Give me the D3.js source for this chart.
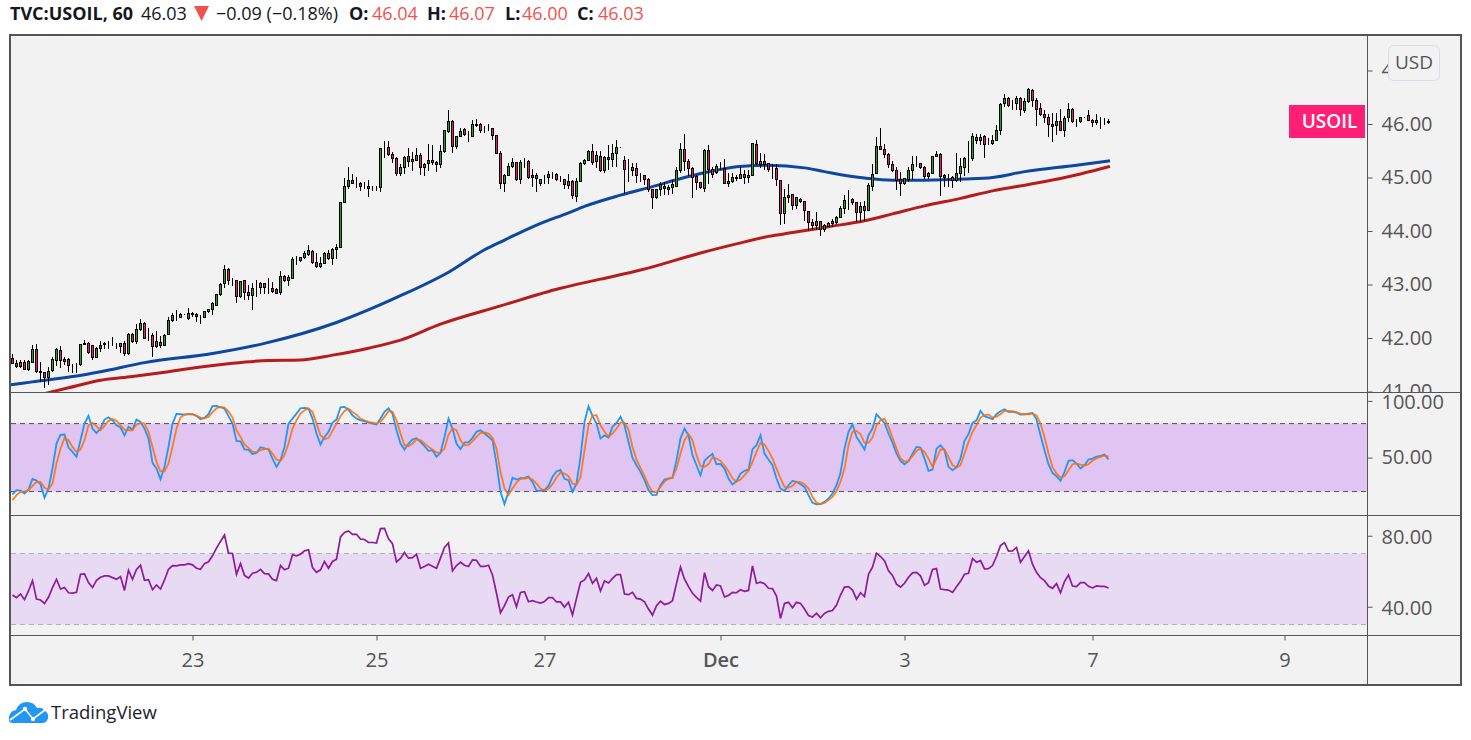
<!DOCTYPE html>
<html>
<head>
<meta charset="utf-8">
<title>TVC:USOIL, 60</title>
<script src="https://cdnjs.cloudflare.com/ajax/libs/d3/7.8.5/d3.min.js"></script>
<style>
  html, body { margin: 0; padding: 0; background: #fff; }
  svg { display: block; }
  text { font-family: "Open Sans", "Noto Sans", sans-serif; }
</style>
</head>
<body>
<div id="chart"></div>
<script>
// Hourly candles, one value per bar
var opens = [
41.62,41.53,41.46,41.55,41.42,41.54,41.79,41.37,41.35,41.26,
41.39,41.58,41.77,41.60,41.60,41.50,41.52,41.50,41.87,41.90,
41.86,41.63,41.80,41.87,41.88,41.87,41.86,41.84,41.90,41.71,
42.07,41.93,42.16,42.27,42.03,42.04,41.84,41.92,41.86,42.06,
42.32,42.41,42.39,42.44,42.36,42.45,42.44,42.40,42.39,42.49,
42.53,42.61,42.82,43.01,43.28,43.08,43.08,42.77,43.07,42.85,
42.80,42.94,42.94,43.02,42.94,42.93,42.90,42.85,43.15,43.07,
43.12,43.46,43.44,43.50,43.57,43.62,43.41,43.33,43.39,43.58,
43.48,43.65,43.69,44.54,44.83,44.95,44.90,44.89,44.85,44.84,
44.82,44.82,44.81,45.56,45.56,45.43,45.36,45.08,45.18,45.40,
45.33,45.31,45.41,45.18,45.26,45.32,45.28,45.25,45.48,45.86,
46.05,45.58,45.77,45.90,45.80,45.76,45.99,45.99,45.90,45.91,
45.92,45.78,45.45,44.89,45.04,45.20,45.28,44.97,45.30,45.30,
45.00,45.04,44.89,45.00,45.00,45.06,45.05,44.97,44.97,44.85,
44.93,44.65,44.93,45.26,45.31,45.48,45.30,45.40,45.13,45.38,
45.33,45.45,45.56,45.32,45.14,45.13,45.17,45.04,45.04,44.97,
44.78,44.62,44.78,44.84,44.77,44.82,44.83,45.13,45.53,45.30,
45.17,45.02,44.90,44.80,45.51,45.15,45.09,45.20,45.17,44.89,
44.92,44.98,44.98,45.05,45.00,45.04,45.62,45.25,45.30,45.26,
45.15,45.17,44.95,44.32,44.62,44.69,44.47,44.59,44.55,44.37,
44.16,44.10,44.17,44.03,44.09,44.14,44.16,44.26,44.42,44.59,
44.58,44.54,44.35,44.46,44.38,44.83,45.08,45.58,45.53,45.43,
45.25,45.13,44.96,44.89,44.97,45.13,45.25,45.26,45.19,45.02,
45.07,45.39,45.43,45.04,45.00,45.00,44.94,45.07,45.19,45.36,
45.35,45.75,45.69,45.77,45.64,45.63,45.70,45.88,46.38,46.48,
46.36,46.39,46.48,46.25,46.42,46.63,46.44,46.29,46.18,46.12,
45.99,45.97,46.05,45.88,46.12,46.27,46.06,46.04,46.12,46.16,
46.07,46.02,46.08,46.06,46.05];
var highs = [
41.71,41.59,41.58,41.59,41.58,41.86,41.89,41.55,41.35,41.45,
41.64,41.81,41.85,41.65,41.62,41.51,41.53,41.88,41.97,41.93,
41.86,41.84,41.94,41.92,41.94,42.01,41.90,41.90,41.94,42.09,
42.09,42.26,42.35,42.29,42.18,42.09,42.13,42.03,42.07,42.40,
42.47,42.53,42.46,42.45,42.56,42.49,42.46,42.43,42.51,42.55,
42.67,42.83,43.03,43.36,43.31,43.13,43.08,43.07,43.08,42.99,
43.02,43.08,43.05,43.02,43.13,43.05,42.93,43.25,43.17,43.18,
43.52,43.53,43.51,43.63,43.74,43.64,43.59,43.51,43.60,43.64,
43.68,43.76,44.54,44.99,45.19,45.07,45.01,44.92,44.92,44.95,
44.84,44.84,45.55,45.68,45.68,45.48,45.38,45.25,45.41,45.55,
45.48,45.56,45.45,45.27,45.63,45.61,45.31,45.61,45.89,46.26,
46.08,45.78,45.93,45.93,45.86,46.08,46.09,46.01,45.96,46.00,
45.93,45.78,45.50,45.07,45.28,45.37,45.28,45.33,45.36,45.33,
45.15,45.09,44.97,45.05,45.12,45.11,45.08,45.03,44.98,45.07,
44.95,44.99,45.29,45.35,45.51,45.63,45.49,45.50,45.40,45.61,
45.63,45.70,45.57,45.41,45.34,45.28,45.28,45.09,45.05,45.00,
44.78,44.79,44.91,44.92,44.86,44.95,45.19,45.64,45.81,45.34,
45.19,45.05,44.92,45.53,45.60,45.20,45.25,45.29,45.34,45.08,
45.08,45.05,45.20,45.14,45.14,45.64,45.70,45.45,45.44,45.28,
45.25,45.25,44.96,44.78,44.87,44.69,44.64,44.61,44.57,44.38,
44.22,44.35,44.17,44.13,44.17,44.22,44.28,44.47,44.67,44.77,
44.61,44.55,44.55,44.57,44.89,45.25,45.75,45.92,45.63,45.45,
45.30,45.20,45.11,45.00,45.20,45.40,45.40,45.28,45.21,45.11,
45.41,45.50,45.46,45.06,45.06,45.03,45.45,45.36,45.38,45.68,
45.84,45.81,45.81,45.80,45.73,45.79,45.98,46.39,46.56,46.51,
46.44,46.52,46.51,46.48,46.67,46.65,46.48,46.40,46.27,46.19,
46.20,46.21,46.28,46.15,46.40,46.29,46.09,46.14,46.13,46.26,
46.10,46.19,46.14,46.12,46.10];
var lows = [
41.52,41.44,41.44,41.40,41.39,41.53,41.35,41.18,41.07,41.13,
41.37,41.48,41.43,41.50,41.36,41.35,41.35,41.48,41.86,41.71,
41.59,41.62,41.73,41.79,41.80,41.85,41.80,41.72,41.67,41.68,
41.91,41.89,42.14,41.98,41.95,41.65,41.81,41.82,41.85,42.06,
42.30,42.31,42.37,42.43,42.33,42.39,42.29,42.27,42.37,42.47,
42.43,42.60,42.79,42.93,42.99,42.97,42.66,42.75,42.71,42.71,
42.52,42.77,42.83,42.82,42.83,42.85,42.82,42.80,43.05,42.98,
43.10,43.36,43.42,43.47,43.53,43.38,43.30,43.30,43.38,43.46,
43.36,43.48,43.68,44.54,44.79,44.88,44.81,44.75,44.78,44.64,
44.74,44.75,44.73,45.36,45.40,45.27,45.03,45.03,45.07,45.20,
45.13,45.30,45.04,45.03,45.13,45.23,45.11,45.18,45.46,45.84,
45.45,45.54,45.75,45.78,45.66,45.75,45.94,45.84,45.84,45.86,
45.70,45.44,44.78,44.73,45.02,45.17,44.94,44.88,45.17,44.98,
44.82,44.72,44.84,44.88,44.88,44.97,44.94,44.92,44.79,44.79,
44.60,44.55,44.92,45.23,45.30,45.24,45.17,45.10,45.09,45.14,
45.20,45.20,45.55,44.69,44.92,45.03,44.90,44.92,44.86,44.73,
44.41,44.60,44.65,44.68,44.67,44.70,44.82,45.08,45.13,45.02,
44.62,44.77,44.78,44.73,44.87,45.00,45.07,45.14,44.87,44.82,
44.89,44.94,44.97,44.88,44.89,45.02,45.23,45.17,45.14,45.11,
44.97,44.85,44.11,44.13,44.52,44.39,44.42,44.52,44.19,44.00,
44.02,44.02,43.91,43.99,44.08,44.08,44.14,44.24,44.32,44.40,
44.49,44.16,44.17,44.19,44.37,44.75,45.07,45.51,45.36,45.17,
45.11,44.77,44.65,44.86,44.92,44.95,45.20,45.15,44.98,44.98,
45.07,45.38,44.65,44.82,44.83,44.80,44.92,44.92,45.03,45.08,
45.31,45.63,45.60,45.36,45.61,45.60,45.69,45.79,46.31,46.32,
46.27,46.27,46.15,46.20,46.39,46.32,45.97,46.15,46.01,45.76,
45.67,45.79,45.86,45.76,46.04,46.01,45.95,46.01,46.11,46.06,
45.95,45.98,45.91,45.98,46.00];
var closes = [
41.53,41.46,41.55,41.41,41.56,41.79,41.37,41.35,41.26,41.38,
41.60,41.79,41.58,41.56,41.48,41.50,41.52,41.88,41.90,41.72,
41.63,41.81,41.86,41.90,41.88,41.87,41.86,41.90,41.71,42.07,
41.93,42.16,42.27,42.00,42.03,41.84,41.94,41.86,42.05,42.33,
42.42,42.41,42.44,42.44,42.46,42.44,42.40,42.40,42.50,42.54,
42.65,42.82,43.00,43.28,43.07,43.08,42.77,43.06,42.85,42.79,
42.93,42.94,43.02,42.94,42.94,42.87,42.84,43.15,43.08,43.13,
43.47,43.46,43.51,43.58,43.63,43.41,43.33,43.39,43.58,43.48,
43.66,43.70,44.53,44.84,44.95,44.88,44.90,44.83,44.85,44.79,
44.82,44.82,45.55,45.56,45.43,45.35,45.07,45.19,45.38,45.30,
45.30,45.41,45.19,45.25,45.32,45.28,45.24,45.49,45.88,46.05,
45.58,45.76,45.86,45.81,45.80,45.99,45.97,45.88,45.90,45.91,
45.79,45.45,44.89,45.04,45.21,45.28,44.97,45.28,45.30,45.00,
45.04,44.98,44.97,45.00,45.06,45.06,44.97,44.97,44.87,44.93,
44.66,44.93,45.27,45.32,45.49,45.28,45.41,45.13,45.38,45.33,
45.45,45.56,45.56,45.15,45.14,45.19,45.04,45.04,44.97,44.78,
44.63,44.78,44.87,44.79,44.82,44.86,45.13,45.53,45.30,45.17,
45.00,44.91,44.81,45.51,45.15,45.05,45.21,45.20,44.88,44.93,
45.00,45.00,45.05,45.00,45.04,45.63,45.27,45.30,45.25,45.15,
45.15,44.96,44.32,44.63,44.67,44.47,44.62,44.55,44.39,44.16,
44.10,44.18,44.02,44.11,44.14,44.17,44.26,44.42,44.57,44.59,
44.53,44.35,44.46,44.38,44.85,45.06,45.58,45.53,45.43,45.25,
45.13,44.95,44.89,44.98,45.13,45.25,45.25,45.18,45.02,45.08,
45.39,45.43,45.02,45.00,45.00,44.95,45.08,45.20,45.35,45.36,
45.77,45.69,45.75,45.61,45.64,45.69,45.88,46.37,46.48,46.34,
46.36,46.48,46.27,46.42,46.65,46.44,46.27,46.18,46.12,46.00,
45.95,46.05,45.88,46.11,46.27,46.04,46.06,46.12,46.12,46.06,
46.02,46.07,46.08,46.06,46.03];

// Moving averages, read at the bars listed
var blueBars = [0,5,16,22,33,50,63,81,97,109,118,123,131,139,143,152,160,168,175,181,189,198,203,213,220,228,238,245,253,266,274];
var blueVals = [41.13,41.18,41.29,41.37,41.54,41.71,41.90,42.29,42.79,43.23,43.65,43.83,44.11,44.34,44.46,44.67,44.83,45.00,45.12,45.20,45.23,45.18,45.11,44.99,44.95,44.95,44.97,45.00,45.11,45.23,45.31];
var redBars = [8,14,22,30,39,47,55,64,72,80,89,97,107,122,137,147,157,172,181,189,195,204,213,220,228,237,245,254,262,274];
var redVals = [40.96,41.07,41.21,41.28,41.37,41.46,41.53,41.58,41.59,41.68,41.81,41.96,42.26,42.60,42.93,43.10,43.27,43.59,43.76,43.90,43.97,44.08,44.19,44.32,44.47,44.61,44.75,44.87,44.98,45.20];

// Stochastic RSI
var stochK = [
17.4,21.2,20.9,18.3,21.8,31.2,29.7,26.5,14.7,22.7,
40.3,62.4,70.0,70.3,58.8,55.0,50.6,65.3,80.0,86.8,
75.6,71.5,75.6,83.5,85.6,82.9,78.5,76.5,69.7,77.1,
74.7,83.5,81.5,75.6,66.8,45.3,40.3,30.9,41.8,59.4,
80.0,88.5,88.2,87.9,88.2,88.2,86.8,83.8,85.0,88.2,
95.3,95.6,94.4,93.2,86.5,80.0,64.7,64.4,57.1,56.8,
53.2,54.1,59.1,58.2,57.1,49.1,41.8,47.7,59.4,80.0,
84.4,88.8,93.5,93.8,93.2,84.4,71.2,61.5,68.2,72.7,
80.9,83.5,94.4,94.7,92.3,87.3,84.4,82.9,82.1,80.9,
80.0,79.1,84.4,90.3,93.5,88.8,74.1,62.4,57.1,62.4,
65.9,67.1,63.8,60.0,55.9,56.5,50.6,54.1,68.2,84.4,
75.6,62.4,57.4,63.2,63.5,67.4,72.7,74.1,71.2,68.2,
65.3,44.7,19.7,8.9,19.7,32.1,30.6,31.8,32.1,33.3,
28.3,20.9,20.6,21.2,25.0,33.0,37.7,39.1,31.2,30.0,
19.7,27.1,50.6,81.5,95.3,86.8,80.0,66.8,69.7,67.6,
77.1,80.6,85.9,78.5,63.8,49.7,43.2,37.4,30.0,21.2,
16.8,17.1,25.6,30.6,31.5,32.1,47.7,66.8,75.6,69.7,
52.1,43.2,34.4,47.1,50.6,53.2,44.1,44.4,40.3,31.5,
26.2,29.1,35.9,38.3,39.4,57.4,60.9,69.7,53.5,48.2,
43.2,31.5,22.7,20.6,25.6,29.4,28.6,26.5,24.1,16.8,
10.0,8.6,8.9,10.9,13.9,18.3,25.6,36.5,57.9,72.7,
79.4,68.2,62.9,57.1,69.7,75.6,88.2,84.4,80.6,71.2,
63.2,53.5,47.1,44.1,46.8,53.5,59.4,58.8,49.1,38.2,
39.4,57.7,60.9,56.5,41.8,38.8,41.2,49.1,64.7,70.6,
80.6,82.9,91.2,86.5,85.3,83.8,88.2,90.9,92.6,90.3,
90.3,89.7,87.9,88.2,88.8,89.4,83.5,69.7,56.5,44.1,
36.5,33.5,29.4,37.4,47.1,47.7,44.7,40.3,43.2,48.2,
49.1,50.9,51.5,52.6,48.5];
var stochD = [
12.4,16.8,19.7,20.0,21.2,25.0,28.6,28.6,23.3,21.8,
27.1,44.7,57.9,67.4,65.3,59.4,55.0,57.1,65.3,78.5,
80.6,77.6,74.1,77.9,82.4,84.1,82.4,78.5,74.7,74.1,
74.1,79.1,80.6,80.0,72.7,59.4,46.2,37.9,37.9,44.7,
59.4,75.6,85.3,87.9,88.5,88.2,86.8,85.3,84.7,85.9,
90.0,93.5,94.7,94.1,90.9,85.3,74.1,68.2,61.5,58.5,
55.3,54.7,56.5,57.4,57.9,53.5,48.2,47.1,52.1,62.4,
75.6,82.9,88.8,91.8,93.2,90.3,80.0,69.7,66.2,67.4,
73.5,80.0,86.5,91.2,93.2,90.3,87.9,84.4,82.9,81.5,
80.9,80.0,81.5,85.9,90.9,90.3,82.9,71.2,60.9,60.0,
62.4,65.9,65.3,62.4,59.4,57.1,54.4,54.4,57.9,70.3,
75.6,74.1,65.3,60.9,61.2,64.4,68.2,71.8,72.1,71.2,
67.4,57.9,37.4,22.7,17.1,22.7,27.9,31.2,31.5,32.1,
30.6,27.1,22.7,20.9,22.4,26.5,32.4,36.8,35.9,33.5,
27.1,25.9,32.4,56.5,78.5,87.1,87.4,78.5,72.7,68.2,
71.2,75.6,80.9,80.9,74.7,59.4,48.2,40.9,33.5,25.6,
19.7,19.4,24.1,28.6,31.5,32.4,40.3,53.5,65.3,70.6,
65.3,52.1,42.4,41.8,44.1,50.0,49.1,47.1,43.0,38.0,
31.5,28.8,30.6,34.4,38.2,46.2,55.0,62.9,61.5,55.9,
49.1,40.3,31.5,24.1,23.3,25.0,28.6,28.3,26.5,22.7,
15.3,10.0,8.9,10.0,12.4,15.3,20.3,28.6,40.3,60.9,
72.7,73.5,70.6,62.9,62.9,67.7,78.5,82.9,84.4,77.1,
67.7,57.9,49.1,46.5,47.1,51.2,55.9,57.9,55.0,49.1,
41.8,49.1,57.1,57.1,50.6,43.2,41.2,43.2,53.5,63.8,
72.7,78.5,85.3,87.4,87.9,85.3,86.2,88.2,91.2,91.2,
90.9,90.0,88.8,88.2,88.2,88.8,87.1,80.0,68.2,53.5,
41.8,35.9,32.4,33.5,38.8,44.1,44.7,43.8,43.0,44.1,
47.1,49.4,50.6,51.8,50.9];

// RSI
var rsi = [
46.6,45.1,47.2,44.0,48.9,54.7,44.3,43.8,41.9,45.3,
50.8,55.5,50.0,50.8,47.9,47.7,48.1,58.3,58.5,53.6,
50.8,54.9,56.6,57.4,57.4,56.4,55.5,57.0,49.2,60.6,
55.5,61.0,63.4,54.9,55.3,49.6,52.3,50.0,55.1,61.1,
63.2,63.0,63.6,63.6,64.3,63.6,61.7,61.1,64.3,65.3,
68.7,73.0,76.8,80.4,70.2,70.0,58.3,64.3,57.7,56.2,
58.9,59.4,61.1,58.7,58.5,55.5,54.7,63.2,60.8,61.7,
69.3,68.7,69.6,71.5,72.1,62.1,59.4,60.8,65.5,61.7,
65.5,66.8,79.3,81.9,82.7,80.8,80.8,78.1,77.9,76.2,
76.2,75.9,84.0,84.2,78.3,75.5,65.3,67.2,70.6,67.4,
67.7,69.6,61.7,62.7,64.0,62.8,61.7,67.4,73.4,75.9,
60.2,63.2,65.1,63.4,62.7,66.4,66.2,62.7,62.7,63.4,
57.9,47.6,36.6,40.6,45.5,46.8,40.0,48.1,48.5,42.8,
43.4,42.7,42.1,43.0,45.1,45.1,42.7,42.7,39.8,42.5,
35.3,44.7,53.8,55.1,58.7,53.2,56.0,48.9,54.5,53.4,
56.0,58.1,58.1,47.2,46.8,48.1,44.7,44.3,42.8,38.7,
35.3,40.6,43.2,41.3,41.9,43.4,53.2,62.3,55.5,51.3,
47.6,45.3,43.2,59.2,51.3,49.2,52.3,51.7,45.5,46.4,
48.1,47.9,49.6,48.7,49.2,63.0,53.2,53.8,53.0,50.4,
50.2,46.0,33.4,41.9,42.5,39.4,42.5,41.9,38.7,35.1,
34.2,36.4,33.8,36.2,37.4,37.9,41.0,46.6,51.1,51.3,
49.4,44.3,47.9,45.7,58.3,62.3,70.2,68.3,65.9,60.2,
57.6,52.7,51.1,53.2,56.6,59.1,59.4,57.4,52.1,53.6,
61.0,61.5,50.0,49.6,49.4,48.1,51.3,54.3,58.3,58.9,
67.2,65.1,66.0,61.3,61.5,63.2,68.3,74.5,76.1,71.3,
71.5,73.4,65.1,68.3,71.5,64.0,59.4,56.4,54.7,51.7,
50.4,53.0,47.9,54.2,57.9,51.7,51.3,53.6,53.6,51.5,
50.6,51.7,51.5,51.5,50.6];

// Axis ticks and bands
var priceTicks = [41,42,43,44,45,46,47];
var stochTicks = [50,100];
var rsiTicks = [40,80];
var stochBand = [20,80];
var rsiBand = [30,70];
var timeBars = [45,91,133,177,223,270,318];
var timeLabels = ["23","25","27","Dec","3","7","9"];

var headerBits = [
  {t:"TVC:USOIL, 60", x:10, w:700, c:"#131722"},
  {t:"46.03", x:141, w:400, c:"#131722"},
  {t:"\u22120.09 (\u22120.18%)", x:216, w:400, c:"#131722"},
  {t:"O:", x:349, w:700, c:"#131722"},
  {t:"46.04", x:372, w:400, c:"#ef5350"},
  {t:"H:", x:427, w:700, c:"#131722"},
  {t:"46.07", x:449, w:400, c:"#ef5350"},
  {t:"L:", x:505, w:700, c:"#131722"},
  {t:"46.00", x:522, w:400, c:"#ef5350"},
  {t:"C:", x:577, w:700, c:"#131722"},
  {t:"46.03", x:598, w:400, c:"#ef5350"}
];

var width = 1471, height = 740;
var plotRight = 1367.5;
var panes = { price:[36,392.5], stoch:[392.5,515.5], rsi:[515.5,635.5], bottom:635.5 };
var axisCol = "#555";

var svg = d3.select("#chart").append("svg")
  .attr("width", width).attr("height", height);

// Scales
var x = d3.scaleLinear().domain([0,274]).range([12.5,1108.5]);
var yPrice = d3.scaleLinear().domain([41,47]).range([391.5,70.5]);
var yStoch = d3.scaleLinear().domain([0,100]).range([514.2,400.9]);
var yRsi = d3.scaleLinear().domain([30,70]).range([624.5,553.5]);

// Frame background
svg.append("rect").attr("x",10).attr("y",35).attr("width",1451).attr("height",650).attr("fill","#f2f2f2");

var defs = svg.append("defs");
defs.append("clipPath").attr("id","clipPrice").append("rect")
  .attr("x",11).attr("y",panes.price[0]).attr("width",1449).attr("height",panes.price[1]-panes.price[0]);
defs.append("clipPath").attr("id","clipAxis").append("rect")
  .attr("x",-1).attr("y",panes.price[0]).attr("width",100).attr("height",panes.price[1]-panes.price[0]);

// Indicator bands
svg.append("rect").attr("x",11).attr("width",plotRight-11)
  .attr("y",yStoch(stochBand[1])).attr("height",yStoch(stochBand[0])-yStoch(stochBand[1]))
  .attr("fill","#e0c4f2");
svg.append("rect").attr("x",11).attr("width",plotRight-11)
  .attr("y",yRsi(rsiBand[1])).attr("height",yRsi(rsiBand[0])-yRsi(rsiBand[1]))
  .attr("fill","#e8daf3");

function bandLines(values, scale, col) {
  svg.append("g").selectAll("line").data(values).enter().append("line")
    .attr("x1",11).attr("x2",plotRight)
    .attr("y1",function(d){return scale(d)}).attr("y2",function(d){return scale(d)})
    .attr("stroke",col).attr("stroke-dasharray","5 4");
}
bandLines(stochBand, yStoch, "#5d4f66");
bandLines(rsiBand, yRsi, "#b5adb8");

// Moving averages go under the candles
var priceG = svg.append("g").attr("clip-path","url(#clipPrice)");
var maLine = d3.line().curve(d3.curveMonotoneX)
  .x(function(d){return x(d[0])}).y(function(d){return yPrice(d[1])});
priceG.append("path").attr("d",maLine(d3.zip(redBars,redVals)))
  .attr("fill","none").attr("stroke","#b71c1c").attr("stroke-width",3).attr("stroke-linecap","square");
priceG.append("path").attr("d",maLine(d3.zip(blueBars,blueVals)))
  .attr("fill","none").attr("stroke","#0d47a1").attr("stroke-width",3).attr("stroke-linecap","square");

// Candles
var bars = d3.range(opens.length);
var candles = priceG.append("g").attr("shape-rendering","crispEdges");
candles.selectAll(".wick").data(bars).enter().append("line")
  .attr("class","wick")
  .attr("x1",function(i){return x(i)}).attr("x2",function(i){return x(i)})
  .attr("y1",function(i){return yPrice(highs[i])}).attr("y2",function(i){return yPrice(lows[i])})
  .attr("stroke","#000");
candles.selectAll(".body").data(bars).enter().append("rect")
  .attr("class","body")
  .attr("x",function(i){return x(i)-1}).attr("width",2)
  .attr("y",function(i){return yPrice(Math.max(opens[i],closes[i]))})
  .attr("height",function(i){return Math.abs(yPrice(opens[i])-yPrice(closes[i]))})
  .attr("fill",function(i){return closes[i]>=opens[i] ? "#22a50f" : "#f5156c"})
  .attr("stroke","#000");

// Oscillators
var oscLine = function(scale) {
  return d3.line().x(function(d,i){return x(i)}).y(function(d){return scale(d)});
};
svg.append("path").attr("d",oscLine(yStoch)(stochK))
  .attr("fill","none").attr("stroke","#2196f3").attr("stroke-width",1.8);
svg.append("path").attr("d",oscLine(yStoch)(stochD))
  .attr("fill","none").attr("stroke","#ff6d00").attr("stroke-width",1.8).attr("stroke-opacity",0.85);
svg.append("path").attr("d",oscLine(yRsi)(rsi))
  .attr("fill","none").attr("stroke","#8e1a9e").attr("stroke-width",1.7);

// Price tag
svg.append("rect").attr("x",1289).attr("y",105).attr("width",76).attr("height",33).attr("fill","#ff1f75");
svg.append("text").attr("x",1329.5).attr("y",128).attr("text-anchor","middle")
  .attr("fill","#fff").attr("font-size",19).attr("font-weight",600).text("USOIL");

// Separators
[panes.price[1],panes.stoch[1],panes.bottom].forEach(function(y){
  svg.append("line").attr("x1",11).attr("x2",1460).attr("y1",y).attr("y2",y).attr("stroke",axisCol);
});

// Axes
function styleAxis(g) {
  g.select(".domain").remove();
  g.selectAll(".tick line").attr("stroke",axisCol);
  g.selectAll(".tick text").attr("fill",axisCol).attr("font-size",20)
    .style("font-family","'Open Sans','Noto Sans',sans-serif");
}
styleAxis(svg.append("g").attr("transform","translate("+plotRight+",0)").attr("clip-path","url(#clipAxis)")
  .call(d3.axisRight(yPrice).tickValues(priceTicks).tickFormat(d3.format(".2f")).tickSize(5).tickPadding(9)));
var stochAxisG = svg.append("g").attr("transform","translate("+plotRight+",0)")
  .call(d3.axisRight(yStoch).tickValues(stochTicks).tickFormat(d3.format(".2f")).tickSize(5).tickPadding(9));
styleAxis(stochAxisG);
// top stochastic label sits a little lower than its tick
stochAxisG.selectAll(".tick text").attr("dy",function(d){return d==100 ? "0.4em" : "0.32em"});
var rsiAxisG = svg.append("g").attr("transform","translate("+plotRight+",0)")
  .call(d3.axisRight(yRsi).tickValues(rsiTicks).tickFormat(d3.format(".2f")).tickSize(5).tickPadding(9));
styleAxis(rsiAxisG);
rsiAxisG.selectAll(".tick text").attr("dy","0.38em");
svg.append("line").attr("x1",plotRight).attr("x2",plotRight).attr("y1",36).attr("y2",684).attr("stroke",axisCol);

var timeAxisG = svg.append("g").attr("transform","translate(0,"+panes.bottom+")")
  .call(d3.axisBottom(x).tickValues(timeBars).tickSize(5).tickPadding(12)
    .tickFormat(function(d,i){return timeLabels[i]}));
styleAxis(timeAxisG);
timeAxisG.selectAll(".tick text").attr("font-weight",function(d,i){return timeLabels[i]=="Dec" ? 600 : 400});

// Frame
svg.append("rect").attr("x",10).attr("y",35).attr("width",1451).attr("height",650)
  .attr("fill","none").attr("stroke",axisCol).attr("stroke-width",2);

// Currency button
svg.append("rect").attr("x",1388.5).attr("y",45.5).attr("width",51).attr("height",35).attr("rx",5)
  .attr("fill","#f2f2f2").attr("stroke","#dcdce6");
svg.append("text").attr("x",1414).attr("y",68.5).attr("text-anchor","middle")
  .attr("fill",axisCol).attr("font-size",19).text("USD");

// Header line
svg.append("g").selectAll("text").data(headerBits).enter().append("text")
  .attr("x",function(d){return d.x}).attr("y",20)
  .attr("font-size",18).attr("font-weight",function(d){return d.w})
  .attr("fill",function(d){return d.c}).text(function(d){return d.t});
svg.append("path").attr("d","M194 6L209 6L201.5 21Z").attr("fill","#ef5350");

// Logo
var logo = svg.append("g");
logo.append("path")
  .attr("d","M13 723Q8 723 9 717Q10 711 16 710Q19 702 27 702Q34 702 37 708Q42 707 44 710Q49 713 48 718Q47 723 42 723Z")
  .attr("fill","#2196f3");
logo.append("path").attr("d","M10 720L25 709L33 719L45 710")
  .attr("fill","none").attr("stroke","#fff").attr("stroke-width",1.6);
logo.append("circle").attr("cx",25).attr("cy",709).attr("r",2.2).attr("fill","#fff");
logo.append("circle").attr("cx",33).attr("cy",719).attr("r",2.2).attr("fill","#fff");
svg.append("text").attr("x",51).attr("y",719).attr("font-size",18.5).attr("fill","#1e222d").text("TradingView");
</script>
</body>
</html>
